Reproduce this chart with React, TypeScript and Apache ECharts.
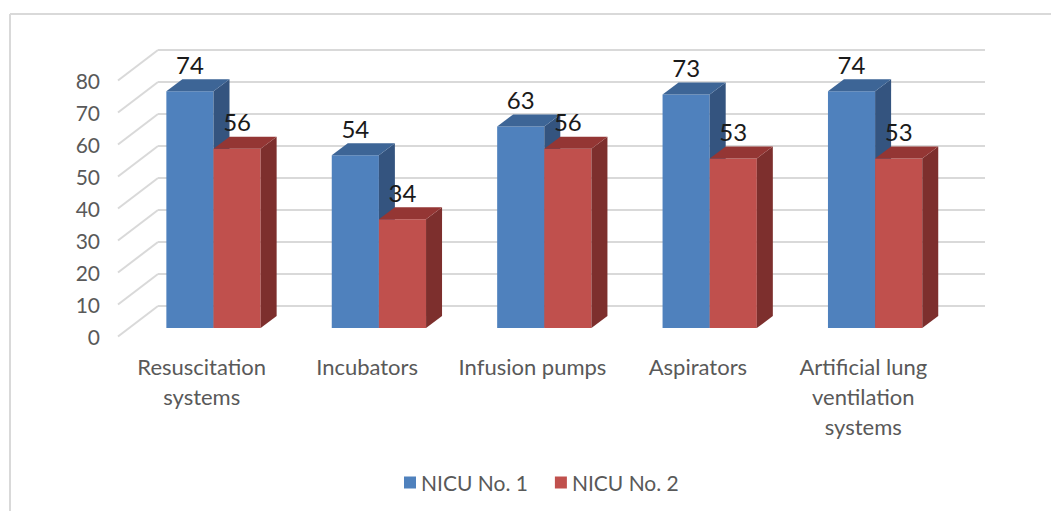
import React, { useEffect, useRef } from "react";
import * as echarts from "echarts";

const categories = [
  "Resuscitation\nsystems",
  "Incubators",
  "Infusion pumps",
  "Aspirators",
  "Artificial lung\nventilation\nsystems",
];
const nicu1 = [74, 54, 63, 73, 74];
const nicu2 = [56, 34, 56, 53, 53];
const ticks = [0, 10, 20, 30, 40, 50, 60, 70, 80];

const FONT = "Lato";
const DEPTH_X = 16;
const DEPTH_Y = 12;
const BAR_RATIO = 0.285;

function barRenderer(offsetIndex: number, front: string, side: string, top: string) {
  return (params: any, api: any) => {
    const cat = api.value(0);
    const val = api.value(1);
    const base = api.coord([cat, 0]);
    const head = api.coord([cat, val]);
    const w = api.size([1, 0])[0] * BAR_RATIO;
    const x0 = base[0] + (offsetIndex - 1) * w;
    const x1 = x0 + w;
    const y0 = base[1];
    const y1 = head[1];
    return {
      type: "group",
      children: [
        { type: "rect", shape: { x: x0, y: y1, width: w, height: y0 - y1 }, style: { fill: front } },
        {
          type: "polygon",
          shape: { points: [[x1, y1], [x1 + DEPTH_X, y1 - DEPTH_Y], [x1 + DEPTH_X, y0 - DEPTH_Y], [x1, y0]] },
          style: { fill: side },
        },
        {
          type: "polygon",
          shape: { points: [[x0, y1], [x0 + DEPTH_X, y1 - DEPTH_Y], [x1 + DEPTH_X, y1 - DEPTH_Y], [x1, y1]] },
          style: { fill: top },
        },
        {
          type: "text",
          x: (x0 + x1) / 2,
          y: y1 - 27,
          style: {
            text: String(val),
            fill: "#1a1a1a",
            font: `24px ${FONT}`,
            align: "center",
            verticalAlign: "middle",
          },
        },
      ],
    };
  };
}

export default function App() {
  const ref = useRef<HTMLDivElement>(null);
  useEffect(() => {
    if (!ref.current) return;
    const chart = echarts.init(ref.current, undefined, { renderer: "svg" });
    chart.setOption({
      animation: false,
      backgroundColor: "#ffffff",
      textStyle: { fontFamily: FONT },
      graphic: [
        { type: "line", shape: { x1: 10, y1: 14, x2: 1051, y2: 14 }, style: { stroke: "#d9d9d9", lineWidth: 2 } },
        { type: "line", shape: { x1: 10, y1: 14, x2: 10, y2: 511 }, style: { stroke: "#d9d9d9", lineWidth: 2 } },
      ],
      grid: [
        { left: 119, top: 80, width: 827, height: 256 },
        { left: 158, top: 50, width: 827, height: 256 },
        { left: 130.8, top: 72, width: 827, height: 256 },
      ],
      xAxis: [
        {
          gridIndex: 0,
          type: "category",
          data: categories,
          axisLine: { show: false },
          axisTick: { show: false },
          axisLabel: { color: "#595959", fontSize: 22, fontFamily: FONT, lineHeight: 30, margin: 15, interval: 0 },
        },
        { gridIndex: 1, type: "value", min: 0, max: 1, show: false },
        { gridIndex: 2, type: "category", data: categories, show: false },
      ],
      yAxis: [
        {
          gridIndex: 0,
          type: "value",
          min: 0,
          max: 80,
          interval: 10,
          splitLine: { show: false },
          axisLine: { show: false },
          axisTick: { show: false },
          axisLabel: { color: "#595959", fontSize: 21, fontFamily: FONT, margin: 19 },
        },
        {
          gridIndex: 1,
          type: "value",
          min: 0,
          max: 80,
          interval: 10,
          axisLabel: { show: false },
          axisLine: { show: false },
          axisTick: { show: false },
          splitLine: { show: true, lineStyle: { color: "#d9d9d9", width: 2 } },
        },
        { gridIndex: 2, type: "value", min: 0, max: 80, interval: 10, show: false },
      ],
      legend: {
        left: 399,
        top: 467,
        itemWidth: 12,
        itemHeight: 12,
        itemGap: 27,
        icon: "rect",
        data: ["NICU No. 1", "NICU No. 2"],
        textStyle: { color: "#595959", fontSize: 21, fontFamily: FONT },
      },
      series: [
        {
          type: "custom",
          xAxisIndex: 1,
          yAxisIndex: 1,
          silent: true,
          data: ticks.map((t) => [0, t]),
          renderItem: (_p: any, api: any) => {
            const c = api.coord([0, api.value(1)]);
            return {
              type: "line",
              shape: { x1: c[0], y1: c[1], x2: c[0] - 40, y2: c[1] + 30.5 },
              style: { stroke: "#d9d9d9", lineWidth: 2 },
            };
          },
        },
        {
          name: "NICU No. 1",
          type: "custom",
          xAxisIndex: 2,
          yAxisIndex: 2,
          itemStyle: { color: "#4f81bd" },
          data: nicu1.map((v, i) => [i, v]),
          encode: { x: 0, y: 1 },
          renderItem: barRenderer(0, "#4f81bd", "#34547f", "#3d6596"),
        },
        {
          name: "NICU No. 2",
          type: "custom",
          xAxisIndex: 2,
          yAxisIndex: 2,
          itemStyle: { color: "#c0504d" },
          data: nicu2.map((v, i) => [i, v]),
          encode: { x: 0, y: 1 },
          renderItem: barRenderer(1, "#c0504d", "#7d2f2d", "#943634"),
        },
      ],
    });
    return () => chart.dispose();
  }, []);
  return <div ref={ref} style={{ position: "absolute", left: 0, top: 0, width: 1051, height: 511 }} />;
}
